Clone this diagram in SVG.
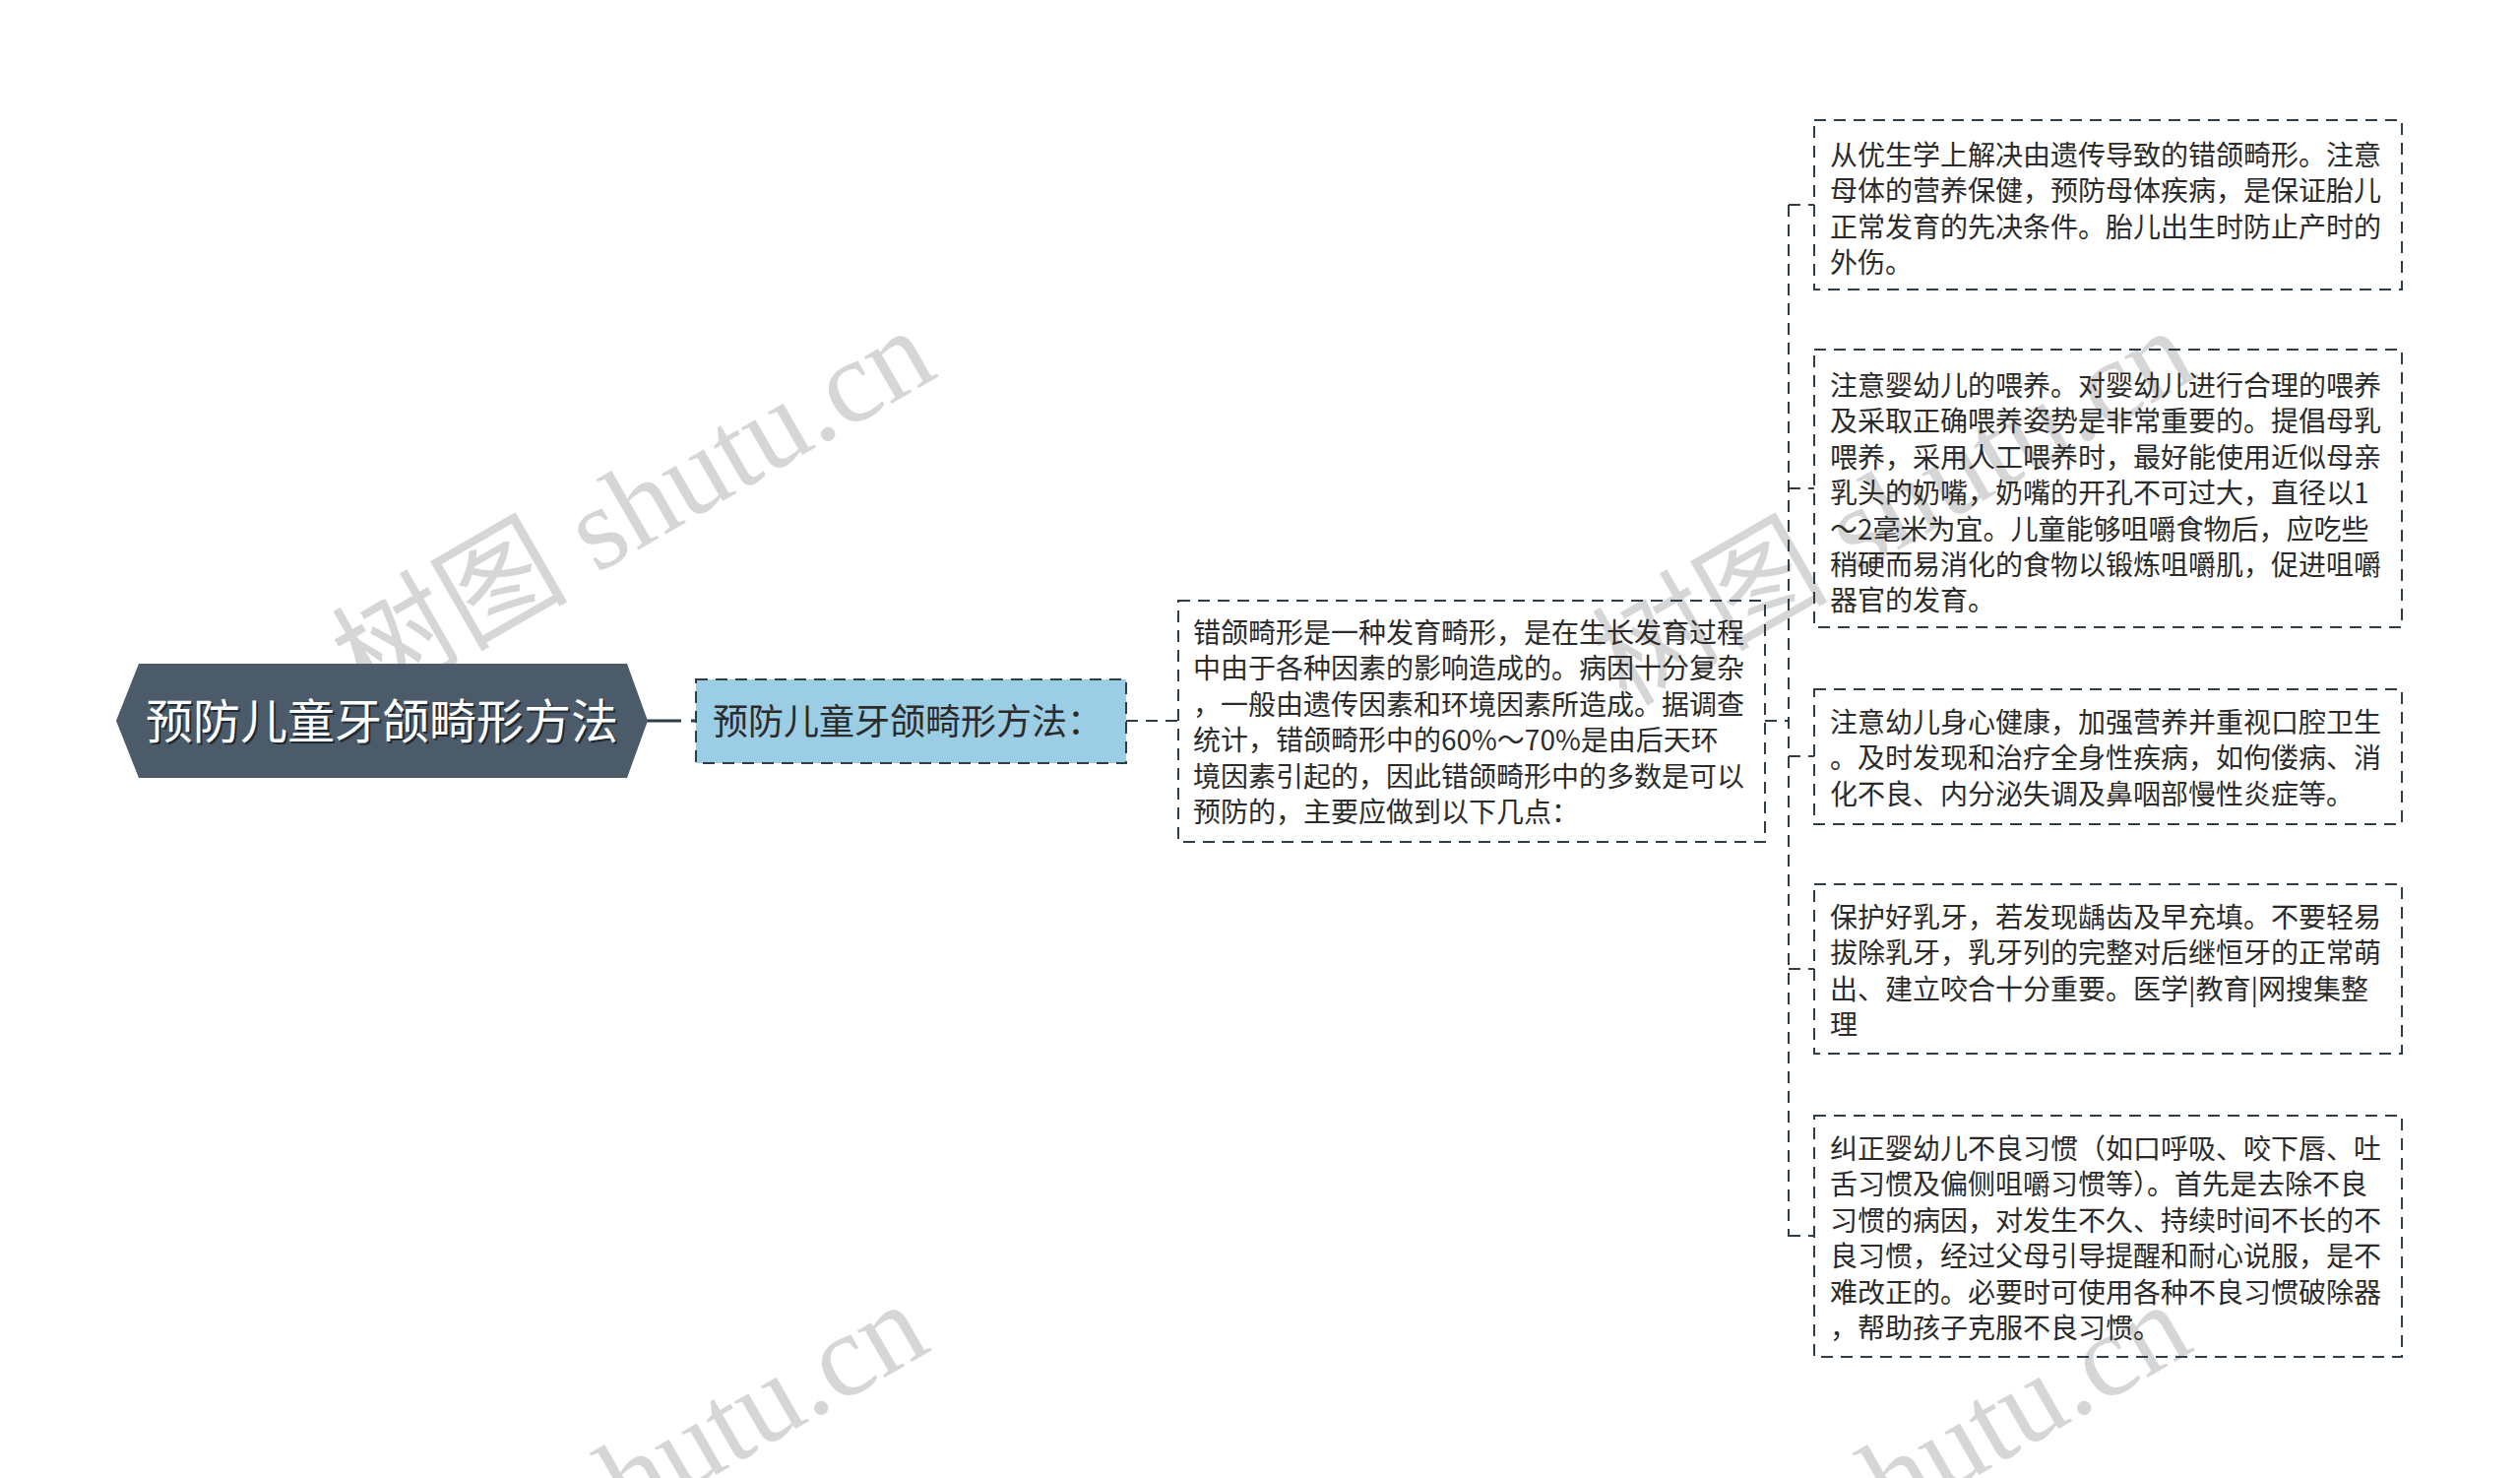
<svg xmlns="http://www.w3.org/2000/svg" width="2560" height="1501" viewBox="0 0 2560 1501">
<style>
.wm{font-family:"Liberation Serif","Noto Sans CJK SC",serif;font-size:120px;fill:#d6d6d6}
.box{fill:none;stroke:#2f3d48;stroke-width:2;stroke-dasharray:12 8}
.conn{fill:none;stroke:#2f3d48;stroke-width:2;stroke-dasharray:12 8}
.t{font-family:"Noto Sans CJK SC","Liberation Sans",sans-serif;font-size:28px;fill:#2b2b2b}
</style>
<rect x="0" y="0" width="2560" height="1501" fill="#ffffff"/>
<g id="watermarks">
<text class="wm" x="372" y="718" transform="rotate(-30 372 718)">树图 shutu.cn</text>
<text class="wm" x="1652" y="718" transform="rotate(-30 1652 718)">树图 shutu.cn</text>
<text class="wm" x="365" y="1707" transform="rotate(-30 365 1707)">树图 shutu.cn</text>
<text class="wm" x="1648" y="1707" transform="rotate(-30 1648 1707)">树图 shutu.cn</text>
</g>
<g id="connectors">
<line x1="656" y1="732" x2="707" y2="732" stroke="#2f3d48" stroke-width="3" stroke-dasharray="36 10"/>
<line class="conn" x1="1144" y1="732" x2="1197" y2="732"/>
<line class="conn" x1="1793" y1="732" x2="1817" y2="732"/>
<line class="conn" x1="1817" y1="208" x2="1817" y2="1256"/>
<line class="conn" x1="1817" y1="208" x2="1843" y2="208"/>
<line class="conn" x1="1817" y1="496" x2="1843" y2="496"/>
<line class="conn" x1="1817" y1="768" x2="1843" y2="768"/>
<line class="conn" x1="1817" y1="984" x2="1843" y2="984"/>
<line class="conn" x1="1817" y1="1255" x2="1843" y2="1255"/>
</g>
<g id="root">
<polygon points="118,732 141,674 637,674 658,732 637,790 141,790" fill="#4b5b69"/>
<text x="390" y="752" text-anchor="middle" font-family="Noto Sans CJK SC, Liberation Sans, sans-serif" font-size="48" fill="#1f2a33">预防儿童牙颌畸形方法</text>
<text x="388" y="750" text-anchor="middle" font-family="Noto Sans CJK SC, Liberation Sans, sans-serif" font-size="48" fill="#ffffff">预防儿童牙颌畸形方法</text>
</g>
<g id="n1">
<rect x="707" y="690" width="437" height="85" fill="#9bcde4" stroke="#2f3d48" stroke-width="2" stroke-dasharray="12 8"/>
<text x="724" y="746" font-family="Noto Sans CJK SC, Liberation Sans, sans-serif" font-size="36" fill="#2b2b2b">预防儿童牙颌畸形方法：</text>
</g>
<g id="n2">
<rect class="box" x="1197" y="610" width="596" height="245"/>
<text class="t" x="1212" y="653">错颌畸形是一种发育畸形，是在生长发育过程</text>
<text class="t" x="1212" y="689.4">中由于各种因素的影响造成的。病因十分复杂</text>
<text class="t" x="1212" y="725.8">，一般由遗传因素和环境因素所造成。据调查</text>
<text class="t" x="1212" y="762.2">统计，错颌畸形中的60%～70%是由后天环</text>
<text class="t" x="1212" y="798.6">境因素引起的，因此错颌畸形中的多数是可以</text>
<text class="t" x="1212" y="835">预防的，主要应做到以下几点：</text>
</g>
<g id="c1">
<rect class="box" x="1843" y="122" width="597" height="172"/>
<text class="t" x="1859" y="168">从优生学上解决由遗传导致的错颌畸形。注意</text>
<text class="t" x="1859" y="204.4">母体的营养保健，预防母体疾病，是保证胎儿</text>
<text class="t" x="1859" y="240.8">正常发育的先决条件。胎儿出生时防止产时的</text>
<text class="t" x="1859" y="277.2">外伤。</text>
</g>
<g id="c2">
<rect class="box" x="1843" y="355" width="597" height="282"/>
<text class="t" x="1859" y="402">注意婴幼儿的喂养。对婴幼儿进行合理的喂养</text>
<text class="t" x="1859" y="438.4">及采取正确喂养姿势是非常重要的。提倡母乳</text>
<text class="t" x="1859" y="474.8">喂养，采用人工喂养时，最好能使用近似母亲</text>
<text class="t" x="1859" y="511.2">乳头的奶嘴，奶嘴的开孔不可过大，直径以1</text>
<text class="t" x="1859" y="547.6">～2毫米为宜。儿童能够咀嚼食物后，应吃些</text>
<text class="t" x="1859" y="584">稍硬而易消化的食物以锻炼咀嚼肌，促进咀嚼</text>
<text class="t" x="1859" y="620.4">器官的发育。</text>
</g>
<g id="c3">
<rect class="box" x="1843" y="700" width="597" height="137"/>
<text class="t" x="1859" y="744">注意幼儿身心健康，加强营养并重视口腔卫生</text>
<text class="t" x="1859" y="780.4">。及时发现和治疗全身性疾病，如佝偻病、消</text>
<text class="t" x="1859" y="816.8">化不良、内分泌失调及鼻咽部慢性炎症等。</text>
</g>
<g id="c4">
<rect class="box" x="1843" y="898" width="597" height="172"/>
<text class="t" x="1859" y="942">保护好乳牙，若发现龋齿及早充填。不要轻易</text>
<text class="t" x="1859" y="978.4">拔除乳牙，乳牙列的完整对后继恒牙的正常萌</text>
<text class="t" x="1859" y="1014.8">出、建立咬合十分重要。医学|教育|网搜集整</text>
<text class="t" x="1859" y="1051.2">理</text>
</g>
<g id="c5">
<rect class="box" x="1843" y="1133" width="597" height="245"/>
<text class="t" x="1859" y="1177">纠正婴幼儿不良习惯（如口呼吸、咬下唇、吐</text>
<text class="t" x="1859" y="1213.4">舌习惯及偏侧咀嚼习惯等）。首先是去除不良</text>
<text class="t" x="1859" y="1249.8">习惯的病因，对发生不久、持续时间不长的不</text>
<text class="t" x="1859" y="1286.2">良习惯，经过父母引导提醒和耐心说服，是不</text>
<text class="t" x="1859" y="1322.6">难改正的。必要时可使用各种不良习惯破除器</text>
<text class="t" x="1859" y="1359">，帮助孩子克服不良习惯。</text>
</g>
</svg>
